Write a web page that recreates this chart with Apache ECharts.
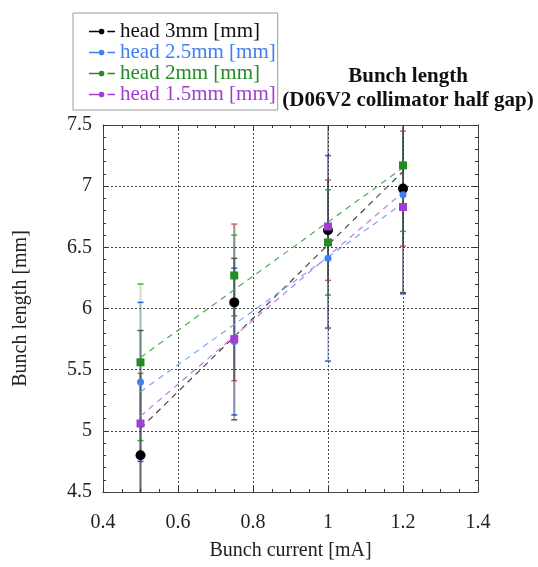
<!DOCTYPE html>
<html>
<head>
<meta charset="utf-8">
<script src="https://cdn.jsdelivr.net/npm/echarts@6/dist/echarts.min.js"></script>
<style>html,body{margin:0;padding:0;background:#fff;}#c{width:538px;height:567px;}</style>
</head>
<body>
<div id="c"></div>
<script>
// Bunch current values [mA]
const currents = [0.5, 0.75, 1.0, 1.2];
// Measured bunch length [mm] per head
const head3 = [4.80, 6.05, 6.64, 6.98];
const head25 = [5.40, 5.73, 6.41, 6.93];
const head2 = [5.56, 6.27, 6.54, 7.17];
const head15 = [5.06, 5.75, 6.67, 6.83];
// Error half-widths
const err3 = [0.67, 0.64, 0.41, 0.47];
const err25 = [0.65, 0.60, 0.84, 0.81];
const err2 = [0.64, 0.33, 0.43, 0.54];
const err15 = [0.76, 0.66, 0.83, 0.70];
// Fit lines (end points)
const fitX = [0.5, 1.2];
const fit3 = [5.02, 7.12];
const fit25 = [5.32, 6.86];
const fit2 = [5.60, 7.15];
const fit15 = [5.12, 6.95];
// Axis ticks
const xTicks = [0.4, 0.6, 0.8, 1, 1.2, 1.4];
const yTicks = [4.5, 5, 5.5, 6, 6.5, 7, 7.5];

const names = ['head 3mm [mm]', 'head 2.5mm [mm]', 'head 2mm [mm]', 'head 1.5mm [mm]'];
const colors = ['#000000', '#3f7ff0', '#238b23', '#a23cd2'];
const textColors = ['#111111', '#3f7ff0', '#238b23', '#a23cd2'];
const fitColors = ['#444444', '#74a6ff', '#4caf50', '#c27be6'];
const capColors = ['#e8585a', '#2a5ae8', '#4aa04a', '#555555'];
const barColors = ['rgba(0,0,0,0.42)', 'rgba(50,90,220,0.30)', 'rgba(60,150,60,0.28)', 'rgba(40,40,40,0.40)'];
const symbols = ['circle', 'circle', 'rect', 'rect'];
const symSizes = [10, 7, 8, 8];
const vals = [head3, head25, head2, head15];
const errs = [err3, err25, err2, err15];
const fits = [fit3, fit25, fit2, fit15];

const YMIN = yTicks[0], YMAX = yTicks[yTicks.length - 1];
const FONT = '"Liberation Serif", "DejaVu Serif", serif';

const series = [];
// error bars
vals.forEach((v, i) => {
  series.push({
    type: 'custom',
    z: 2,
    clip: true,
    silent: true,
    data: currents.map((x, k) => [x, v[k] - errs[i][k], v[k] + errs[i][k]]),
    encode: { x: 0, y: [1, 2] },
    renderItem: function (params, api) {
      const x = api.value(0), lo = api.value(1), hi = api.value(2);
      const loC = Math.max(lo, YMIN), hiC = Math.min(hi, YMAX);
      const p1 = api.coord([x, loC]), p2 = api.coord([x, hiC]);
      const ch = [{
        type: 'line',
        shape: { x1: p1[0], y1: p1[1], x2: p2[0], y2: p2[1] },
        style: { stroke: barColors[i], lineWidth: 2 }
      }];
      if (lo >= YMIN) {
        ch.push({ type: 'line', shape: { x1: p1[0] - 3, y1: p1[1], x2: p1[0] + 3, y2: p1[1] }, style: { stroke: capColors[i], lineWidth: 1.5 } });
      }
      if (hi <= YMAX) {
        ch.push({ type: 'line', shape: { x1: p2[0] - 3, y1: p2[1], x2: p2[0] + 3, y2: p2[1] }, style: { stroke: capColors[i], lineWidth: 1.5 } });
      }
      return { type: 'group', children: ch };
    }
  });
});
// fit lines
fits.forEach((f, i) => {
  series.push({
    type: 'line',
    z: 3,
    silent: true,
    symbol: 'none',
    data: fitX.map((x, k) => [x, f[k]]),
    lineStyle: { color: fitColors[i], width: 1.2, type: [6, 5] }
  });
});
// points
vals.forEach((v, i) => {
  series.push({
    name: names[i],
    type: 'scatter',
    z: 5,
    symbol: symbols[i],
    symbolSize: symSizes[i],
    itemStyle: { color: colors[i], opacity: 1 },
    data: currents.map((x, k) => [x, v[k]])
  });
});

const iconPath = 'path://M0,3.4h9v1.4h-9z M9,4.1a2.6,2.6 0 1,0 5.2,0a2.6,2.6 0 1,0 -5.2,0z M17,3.4h7v1.4h-7z';

const tickStyle = { show: true, inside: true, length: 5, lineStyle: { color: '#333' } };
const minorTickStyle = { show: true, length: 3, lineStyle: { color: '#333' } };
const axisLineStyle = { show: true, lineStyle: { color: '#444', width: 1 } };

const option = {
  animation: false,
  backgroundColor: '#ffffff',
  textStyle: { fontFamily: FONT },
  title: {
    text: 'Bunch length\n(D06V2 collimator half gap)',
    left: 403,
    top: 60,
    textAlign: 'center',
    textStyle: { fontFamily: FONT, fontWeight: 'bold', fontSize: 21, lineHeight: 24, color: '#111' }
  },
  legend: {
    orient: 'vertical',
    left: 73,
    top: 13,
    padding: [8, 2, 5, 16],
    itemGap: 0,
    itemWidth: 26,
    itemHeight: 8,
    borderColor: '#9a9a9a',
    borderWidth: 1,
    backgroundColor: '#fff',
    textStyle: { fontFamily: FONT, fontSize: 21, lineHeight: 21 },
    data: names.map((n, i) => ({ name: n, icon: iconPath, textStyle: { color: textColors[i] } }))
  },
  grid: { left: 103, right: 60, top: 125, bottom: 75 },
  xAxis: [{
    type: 'value',
    min: xTicks[0], max: xTicks[xTicks.length - 1], interval: 0.2,
    name: 'Bunch current [mA]',
    nameLocation: 'middle',
    nameGap: 49,
    nameTextStyle: { fontFamily: FONT, fontSize: 20, color: '#222' },
    axisLine: axisLineStyle,
    axisTick: tickStyle,
    minorTick: Object.assign({ splitNumber: 4 }, minorTickStyle),
    axisLabel: { fontFamily: FONT, fontSize: 20, color: '#222', margin: 21, showMinLabel: true, showMaxLabel: true },
    splitLine: { show: true, lineStyle: { color: '#444', type: [2, 2], width: 1 } }
  }, {
    type: 'value', position: 'top',
    min: xTicks[0], max: xTicks[xTicks.length - 1], interval: 0.2,
    axisLine: axisLineStyle,
    axisTick: tickStyle,
    minorTick: Object.assign({ splitNumber: 4 }, minorTickStyle),
    axisLabel: { show: false },
    splitLine: { show: false }
  }],
  yAxis: [{
    type: 'value',
    min: YMIN, max: YMAX, interval: 0.5,
    name: 'Bunch length [mm]',
    nameLocation: 'middle',
    nameGap: 72,
    nameTextStyle: { fontFamily: FONT, fontSize: 20, color: '#222' },
    axisLine: axisLineStyle,
    axisTick: tickStyle,
    minorTick: Object.assign({ splitNumber: 5 }, minorTickStyle),
    axisLabel: { fontFamily: FONT, fontSize: 20, color: '#222', margin: 11 },
    splitLine: { show: true, lineStyle: { color: '#444', type: [2, 2], width: 1 } }
  }, {
    type: 'value', position: 'right',
    min: YMIN, max: YMAX, interval: 0.5,
    axisLine: axisLineStyle,
    axisTick: tickStyle,
    minorTick: Object.assign({ splitNumber: 5 }, minorTickStyle),
    axisLabel: { show: false },
    splitLine: { show: false }
  }],
  series: series
};

const chart = echarts.init(document.getElementById('c'), null, { renderer: 'canvas' });
chart.setOption(option);
</script>
</body>
</html>
